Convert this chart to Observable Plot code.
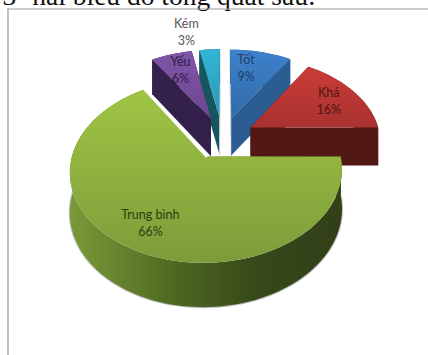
<!DOCTYPE html>
<html>
<head>
<meta charset="utf-8">
<script src="https://cdn.jsdelivr.net/npm/d3@7"></script>
<script src="https://cdn.jsdelivr.net/npm/@observablehq/plot@0.6"></script>
<style>
  html, body { margin: 0; padding: 0; background: #fff; overflow: hidden; }
  svg { display: block; }
</style>
</head>
<body>
<div id="chart"></div>
<script>
const categories = ["Tốt", "Khá", "Trung bình", "Yếu", "Kém"];
const shares = [9, 16, 66, 6, 3];
const heading = "3- hai biểu đồ tổng quát sau:";

const topFills = ["url(#topBlue)", "url(#topRed)", "url(#topGreen)", "url(#topPurple)", "url(#topCyan)"];
const wallFills = ["#2b5c92", "#521814", "url(#wallGreen)", "#33214c", "#15565f"];
const labelInk = ["#1f3d66", "#4a1713", "#2c3c12", "#2b1c44", "#555555"];

// Pie geometry: unit-radius disc, exploded, seen in perspective
const W = 428, H = 355;
const cx = 222, cy = 137, rx = 130, ry = 84, persp = 0.15, explode = 0.25, depth = 38.5;
const rad = d => d * Math.PI / 180;

function project(u, v, drop = 0) {
  const w = 1 + persp * v;
  return {px: cx + rx * u / w, py: cy - ry * v / w + (drop ? depth / Math.pow(w, 0.7) : 0)};
}

let running = 0;
const slices = categories.map((name, i) => {
  const start = running * 3.6;
  running += shares[i];
  const end = running * 3.6;
  const mid = (start + end) / 2;
  return {name, share: shares[i], i, start, end, mid,
          ox: explode * Math.sin(rad(mid)), oy: explode * Math.cos(rad(mid))};
});

function rim(s, drop) {
  const n = Math.ceil((s.end - s.start) / 2);
  return d3.range(n + 1).map(k => {
    const a = rad(s.start + (s.end - s.start) * k / n);
    return project(s.ox + Math.sin(a), s.oy + Math.cos(a), drop);
  });
}
const apex = (s, drop) => project(s.ox, s.oy, drop);
const faceTop = s => [apex(s, false), ...rim(s, false)];
const faceArc = s => [...rim(s, false), ...rim(s, true).reverse()];
const faceRadial = (s, atEnd) => {
  const a = rim(s, false), b = rim(s, true);
  const k = atEnd ? a.length - 1 : 0;
  return [apex(s, false), a[k], b[k], apex(s, true)];
};

const polygon = (points, fill, extra = {}) =>
  Plot.line(points, {x: "px", y: "py", fill, stroke: "none", ...extra});
const softEdge = {stroke: "#cfcfcf", strokeWidth: 1};

// Slices are painted back to front so nearer ones cover farther ones
const paintOrder = [4, 3, 0, 1, 2];
const sliceMarks = paintOrder.flatMap(i => {
  const s = slices[i];
  return [
    polygon(faceRadial(s, false), wallFills[i], i === 0 ? softEdge : {}),
    polygon(faceRadial(s, true), wallFills[i], i === 4 ? softEdge : {}),
    ...(i === 2 ? [Plot.line(rim(s, true), {x: "px", y: "py", stroke: "#c4c4c4", strokeWidth: 2.2})] : []),
    polygon(faceArc(s), wallFills[i]),
    polygon(faceTop(s), topFills[i])
  ];
});

// The large slice is set off from its neighbours by a thin light edge
const big = slices[2];
const bigEdge = [apex(big, false), rim(big, false).at(-1)];

const labelRule = {0: {radius: 0.98, turn: -4}, 4: {radius: 1.6, turn: -7}};
const labels = slices.map(s => {
  const rule = labelRule[s.i] || {radius: 1, turn: 0};
  const a = rad(s.mid + rule.turn);
  return {text: `${s.name}\n${s.share}%`, ink: labelInk[s.i],
          ...project(rule.radius * Math.sin(a), rule.radius * Math.cos(a))};
});

function gradient(defs, id, x2, y2, stops) {
  const g = defs.append("linearGradient").attr("id", id)
    .attr("x1", 0).attr("y1", 0).attr("x2", x2).attr("y2", y2);
  stops.forEach(([o, c]) => g.append("stop").attr("offset", o).attr("stop-color", c));
}

function gradients() {
  const defs = d3.create("svg:defs");
  gradient(defs, "topGreen", 0, 1, [[0, "#9fc544"], [1, "#7d9c3a"]]);
  gradient(defs, "topRed", 0, 1, [[0, "#cb3b37"], [1, "#a8322f"]]);
  gradient(defs, "topBlue", 0, 1, [[0, "#3f82cc"], [1, "#2f6aa8"]]);
  gradient(defs, "topPurple", 0, 1, [[0, "#8055a8"], [1, "#6c4690"]]);
  gradient(defs, "topCyan", 0, 1, [[0, "#33b5d6"], [1, "#2b98b4"]]);
  gradient(defs, "wallGreen", 1, 0, [[0, "#7a9a38"], [0.15, "#698830"], [0.37, "#4f6a22"], [0.52, "#445a1d"], [0.7, "#36481a"], [1, "#323f18"]]);
  return defs.node();
}

const chart = Plot.plot({
  width: W, height: H,
  margin: 0,
  x: {domain: [0, W], range: [0, W], axis: null},
  y: {domain: [0, H], range: [0, H], axis: null},
  style: {background: "#fff", overflow: "hidden"},
  marks: [
    gradients,
    Plot.text([heading], {x: () => 2, y: () => -4.5, text: d => d, textAnchor: "start",
      fontFamily: "Liberation Serif", fontSize: 27.5, fill: "#111"}),
    Plot.ruleX([7.5], {y1: 8.5, y2: H, stroke: "#9a9a9a", strokeWidth: 1.2}),
    Plot.ruleY([8.5], {x1: 7.5, x2: W, stroke: "#9a9a9a", strokeWidth: 1.2}),
    ...sliceMarks,
    Plot.line(bigEdge, {x: "px", y: "py", stroke: "#ffffff", strokeWidth: 2}),
    Plot.text(labels, {x: "px", y: "py", text: "text", fill: "ink", lineHeight: 1.36,
      fontFamily: "Lato", fontSize: 12.5})
  ]
});
document.getElementById("chart").append(chart);
</script>
</body>
</html>
